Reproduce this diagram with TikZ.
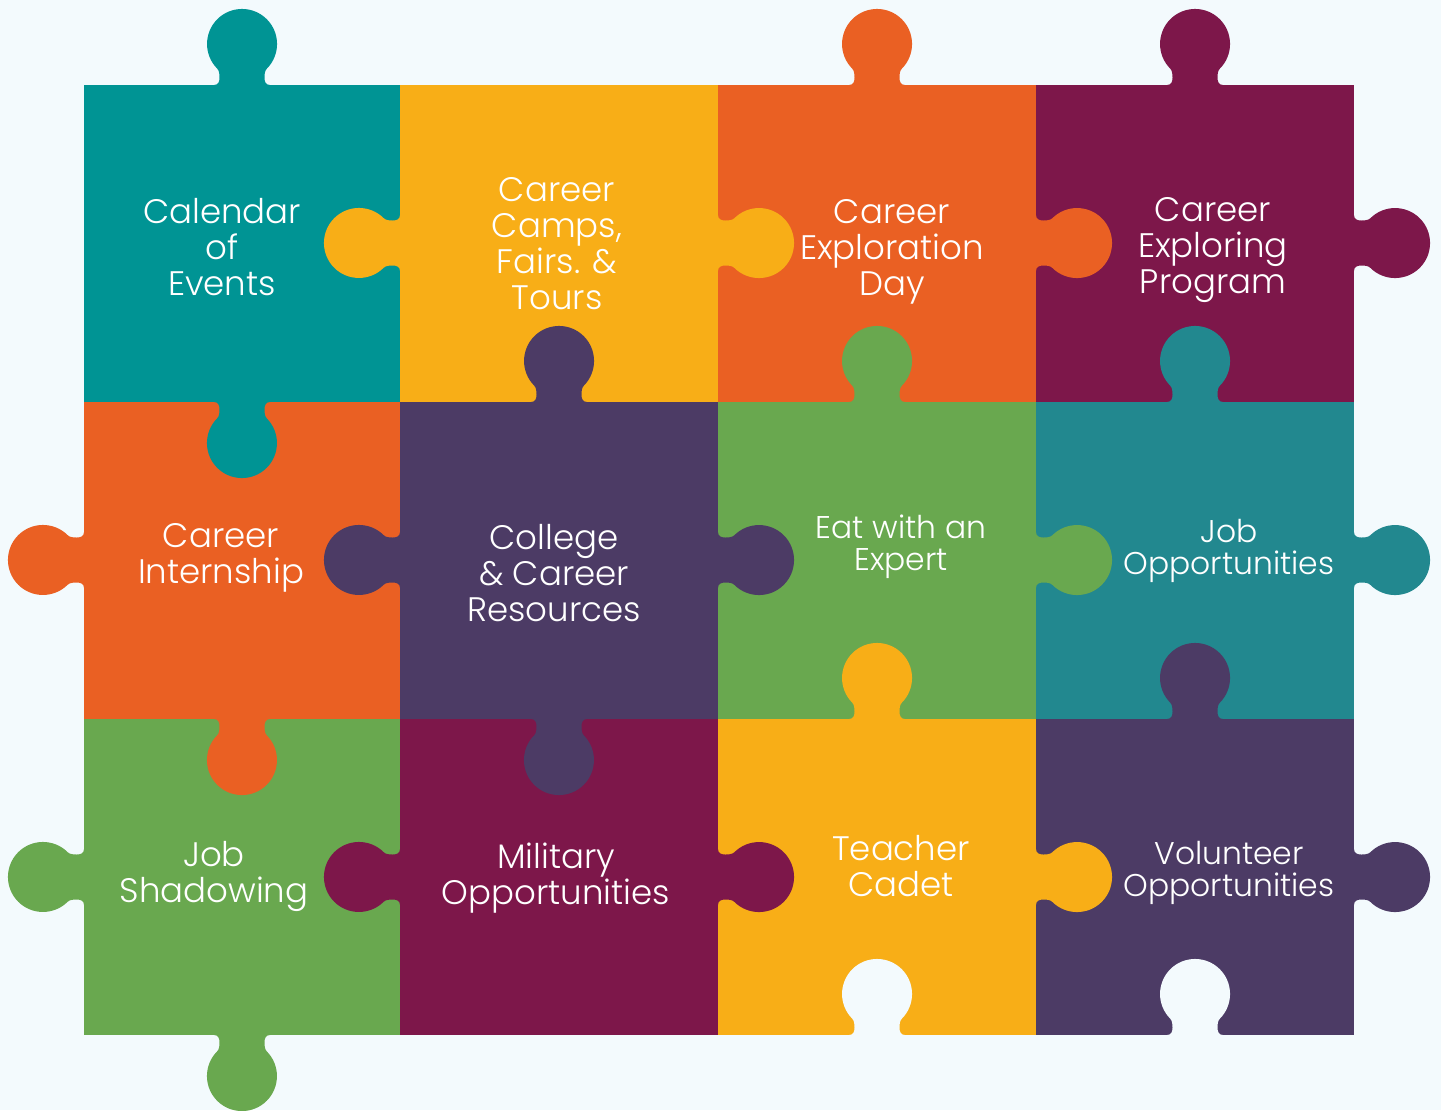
\documentclass[tikz,border=0pt]{standalone}
\usepackage{fontspec}
\setmainfont{Poppins Light}
\definecolor{bgblue}{HTML}{F3FAFD}
\definecolor{pzteal}{HTML}{009494}
\definecolor{pzyellow}{HTML}{F8AE17}
\definecolor{pzorange}{HTML}{EA6023}
\definecolor{pzmaroon}{HTML}{7D174A}
\definecolor{pzpurple}{HTML}{4C3B65}
\definecolor{pzgreen}{HTML}{69A84F}
\definecolor{pzcyan}{HTML}{22888F}

\begin{document}
\begin{tikzpicture}[x=0.5pt, y=-0.5pt]
\tikzset{knob/.pic={
  \begin{scope}[x=0.5pt, y=0.5pt]
  \fill[pic actions] (-28,-3) -- (-28,0) .. controls (-24,0) and (-22.5,3) .. (-22.5,7)
    .. controls (-22.5,10) and (-22.6,14.2) .. (-24.7,16.3)
    arc[start angle=225, end angle=-45, radius=35]
    .. controls (22.6,14.2) and (22.5,10) .. (22.5,7)
    .. controls (22.5,3) and (24,0) .. (28,0) -- (28,-3) -- cycle;
  \end{scope}}}
\tikzset{pztext/.style={text=white, align=center, inner sep=0pt, font=\fontsize{17}{18}\selectfont}}
\tikzset{pzsmall/.style={pztext, font=\fontsize{15.7}{16}\selectfont}}
\path[use as bounding box, fill=bgblue] (0,0) rectangle (1441,1110);
% pieces
\fill[pzteal] (84,85) rectangle (400,402);
\fill[pzyellow] (400,85) rectangle (718,402);
\fill[pzorange] (718,85) rectangle (1036,402);
\fill[pzmaroon] (1036,85) rectangle (1354,402);
\fill[pzorange] (84,402) rectangle (400,719);
\fill[pzpurple] (400,402) rectangle (718,719);
\fill[pzgreen] (718,402) rectangle (1036,719);
\fill[pzcyan] (1036,402) rectangle (1354,719);
\fill[pzgreen] (84,719) rectangle (400,1035);
\fill[pzmaroon] (400,719) rectangle (718,1035);
\fill[pzyellow] (718,719) rectangle (1036,1035);
\fill[pzpurple] (1036,719) rectangle (1354,1035);
% knobs
\pic[fill=pzteal] at (242,85) {knob};
\pic[fill=pzteal, rotate=180] at (242,402) {knob};
\pic[fill=pzyellow, rotate=90] at (400,243) {knob};
\pic[fill=pzyellow, rotate=-90] at (718,243) {knob};
\pic[fill=pzorange] at (877,85) {knob};
\pic[fill=pzorange, rotate=-90] at (1036,243) {knob};
\pic[fill=pzmaroon] at (1195,85) {knob};
\pic[fill=pzmaroon, rotate=-90] at (1354,243) {knob};
\pic[fill=pzorange, rotate=90] at (84,560) {knob};
\pic[fill=pzorange, rotate=180] at (242,719) {knob};
\pic[fill=pzpurple] at (559,402) {knob};
\pic[fill=pzpurple, rotate=90] at (400,560) {knob};
\pic[fill=pzpurple, rotate=-90] at (718,560) {knob};
\pic[fill=pzpurple, rotate=180] at (559,719) {knob};
\pic[fill=pzgreen] at (877,402) {knob};
\pic[fill=pzgreen, rotate=-90] at (1036,560) {knob};
\pic[fill=pzcyan] at (1195,402) {knob};
\pic[fill=pzcyan, rotate=-90] at (1354,560) {knob};
\pic[fill=pzgreen, rotate=90] at (84,877) {knob};
\pic[fill=pzgreen, rotate=180] at (242,1035) {knob};
\pic[fill=pzmaroon, rotate=90] at (400,877) {knob};
\pic[fill=pzmaroon, rotate=-90] at (718,877) {knob};
\pic[fill=pzyellow] at (877,719) {knob};
\pic[fill=pzyellow, rotate=-90] at (1036,877) {knob};
\pic[fill=pzpurple] at (1195,719) {knob};
\pic[fill=pzpurple, rotate=-90] at (1354,877) {knob};
% holes
\pic[fill=bgblue] at (877,1035) {knob};
\pic[fill=bgblue] at (1195,1035) {knob};
% texts
\node[pztext] (calendar) at (222,247) {Calendar\\of\\Events};
\node[pztext] (camps) at (557,244) {Career\\Camps,\\Fairs. \&\\Tours};
\node[pztext] (explday) at (892,252) {Career\\Exploration\\Day};
\node[pztext] (explprog) at (1213,250) {Career\\Exploring\\Program};
\node[pztext] (internship) at (221,558) {Career\\Internship};
\node[pztext] (college) at (554,573) {College\\\& Career\\Resources};
\node[pzsmall] (expert) at (901,547) {Eat with an\\Expert};
\node[pzsmall] (jobopp) at (1229,551) {Job\\Opportunities};
\node[pztext] (shadow) at (214,876) {Job\\Shadowing};
\node[pztext] (military) at (556,878) {Military\\Opportunities};
\node[pztext] (cadet) at (901,866) {Teacher\\Cadet};
\node[pzsmall] (volunteer) at (1229,873) {Volunteer\\Opportunities};
\end{tikzpicture}
\end{document}
